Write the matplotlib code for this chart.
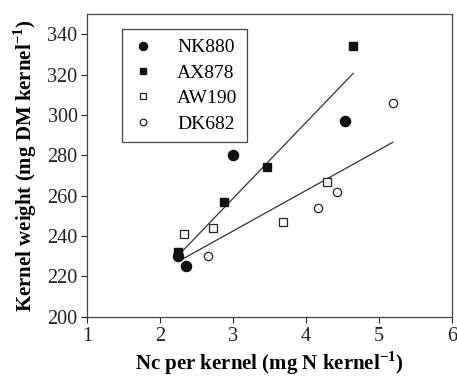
import numpy as np
import matplotlib.pyplot as plt

plt.rcParams['font.family'] = ['Liberation Serif', 'DejaVu Serif']
plt.rcParams['mathtext.fontset'] = 'custom'
plt.rcParams['mathtext.rm'] = 'Liberation Serif'
plt.rcParams['mathtext.bf'] = 'Liberation Serif:bold'

# data
nk880_x = [2.25, 2.35, 3.00, 4.53]
nk880_y = [230, 225, 280, 297]
ax878_x = [2.25, 2.88, 3.46, 4.64]
ax878_y = [232, 257, 274, 334]
aw190_x = [2.33, 2.73, 3.69, 4.29]
aw190_y = [241, 244, 247, 267]
dk682_x = [2.65, 4.17, 4.42, 5.19]
dk682_y = [230, 254, 262, 306]

# regression lines (end points)
fit_hi_x = [2.25, 4.645]
fit_hi_y = [230.5, 320.6]
fit_lo_x = [2.25, 5.19]
fit_lo_y = [227.5, 286.5]

fig = plt.figure(figsize=(4.57, 3.79), dpi=100)
ax = fig.add_axes([0.191, 0.164, 0.798, 0.799])

ax.plot(fit_hi_x, fit_hi_y, color='#333333', lw=0.9, zorder=1)
ax.plot(fit_lo_x, fit_lo_y, color='#333333', lw=0.9, zorder=1)

ax.plot(nk880_x, nk880_y, 'o', color='#111111', ms=7.3, ls='none', label='NK880')
ax.plot(ax878_x, ax878_y, 's', color='#111111', ms=5.8, ls='none', label='AX878')
ax.plot(aw190_x, aw190_y, 's', mfc='white', mec='#222222', mew=0.9, ms=5.4, ls='none', label='AW190')
ax.plot(dk682_x, dk682_y, 'o', mfc='white', mec='#222222', mew=0.9, ms=6.0, ls='none', label='DK682')

ax.set_xlim(1, 6)
ax.set_ylim(200, 350)
ax.set_xticks([1, 2, 3, 4, 5, 6])
ax.set_yticks(np.arange(200, 341, 20))
ax.tick_params(direction='out', length=4, width=0.8, labelsize=14.5, colors='#222222', pad=3)
for s in ax.spines.values():
    s.set_linewidth(0.9)
    s.set_color('#444444')

ax.set_xlabel(r'Nc per kernel (mg N kernel$^{\mathbf{-1}}$)', fontsize=15, fontweight='bold', labelpad=3)
ax.set_ylabel(r'Kernel weight (mg DM kernel$^{\mathbf{-1}}$)', fontsize=15, fontweight='bold', labelpad=6)

leg = ax.legend(loc='upper left', bbox_to_anchor=(0.095, 0.95), borderaxespad=0, fontsize=14,
                markerscale=0.8, handletextpad=1.13, borderpad=0.5, labelspacing=0.4,
                handlelength=1.2, fancybox=False, edgecolor='#444444', framealpha=1)
leg.get_frame().set_linewidth(0.9)

fig.savefig('out.png', dpi=100)
